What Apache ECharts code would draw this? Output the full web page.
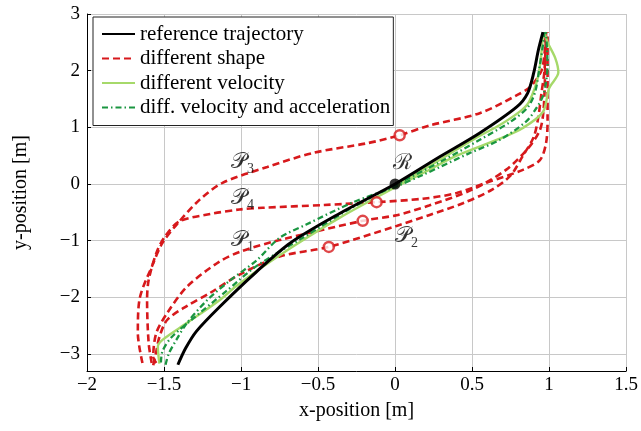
<!DOCTYPE html>
<html>
<head>
<meta charset="utf-8">
<script src="https://cdn.jsdelivr.net/npm/echarts@6/dist/echarts.min.js"></script>
<style>
  html, body { margin: 0; padding: 0; background: #fff; }
  #chart { width: 641px; height: 431px; }
</style>
</head>
<body>
<div id="chart"></div>
<script>
// reference trajectory
const refPath = [[-1.41,-3.19],[-1.36,-2.9],[-1.29,-2.6],[-1.14,-2.17],[-0.9,-1.55],[-0.68,-1.04],[-0.36,-0.52],[0,0],[0.29,0.48],[0.55,0.9],[0.79,1.36],[0.86,1.6],[0.9,1.96],[0.93,2.36],[0.96,2.68]];

// different shape (P1..P4)
const shapeP1 = [[-1.55,-3.16],[-1.57,-3.05],[-1.55,-2.63],[-1.48,-2.28],[-1.35,-1.81],[-1.14,-1.37],[-1.0,-1.19],[-0.75,-0.99],[-0.21,-0.65],[0.01,-0.55],[0.22,-0.38],[0.5,-0.1],[0.72,0.25],[0.87,0.65],[0.94,0.95],[0.96,1.2],[0.97,1.6],[0.98,2.68]];
const shapeP2 = [[-1.57,-3.2],[-1.55,-2.95],[-1.53,-2.7],[-1.48,-2.4],[-1.35,-2.15],[-1.2,-1.92],[-1.01,-1.6],[-0.75,-1.28],[-0.43,-1.11],[0.01,-0.74],[0.22,-0.55],[0.44,-0.34],[0.63,-0.1],[0.75,0.15],[0.83,0.5],[0.9,0.83],[0.93,1.18],[0.95,1.6],[0.97,2.0],[0.98,2.68]];
const shapeP3 = [[-1.64,-3.16],[-1.67,-2.63],[-1.66,-2.05],[-1.57,-1.4],[-1.51,-1.04],[-1.41,-0.69],[-1.27,-0.28],[-1.12,0.02],[-0.83,0.3],[-0.53,0.55],[-0.18,0.72],[0.03,0.86],[0.22,1.03],[0.55,1.25],[0.8,1.58],[0.88,1.72],[0.95,2.0],[0.97,2.3],[0.98,2.68]];
const shapeP4 = [[-1.58,-3.16],[-1.6,-2.8],[-1.61,-2.05],[-1.6,-1.7],[-1.55,-1.22],[-1.5,-0.95],[-1.4,-0.66],[-1.2,-0.53],[-1.01,-0.45],[-0.86,-0.42],[-0.46,-0.37],[-0.12,-0.32],[0.18,-0.26],[0.4,-0.16],[0.61,0.04],[0.83,0.25],[0.94,0.42],[0.98,0.72],[0.99,1.13],[0.99,1.6],[0.99,2.68]];

// different velocity
const velA = [[-1.53,-3.17],[-1.54,-2.87],[-1.51,-2.75],[-1.35,-2.45],[-1.14,-2.05],[-1.03,-1.8],[-0.88,-1.5],[-0.65,-1.08],[-0.35,-0.58],[0,-0.06],[0.2,0.22],[0.4,0.5],[0.68,0.8],[0.83,0.99],[0.96,1.27],[1.0,1.69],[1.06,1.97],[1.04,2.22],[0.99,2.5],[0.97,2.68]];
const velB = [[0,-0.04],[0.2,0.28],[0.55,0.85],[0.68,1.04],[0.82,1.3],[0.87,1.45],[0.93,1.92],[0.96,2.63]];

// diff. velocity and acceleration
const accA = [[-1.49,-3.19],[-1.47,-3.0],[-1.42,-2.75],[-1.35,-2.45],[-1.22,-2.05],[-1.07,-1.7],[-0.9,-1.35],[-0.75,-0.95],[-0.58,-0.72],[-0.27,-0.32],[0,-0.05],[0.18,0.16],[0.48,0.54],[0.68,0.78],[0.85,1.1],[0.92,1.35],[0.96,1.55],[0.98,1.8],[0.99,2.1],[0.98,2.68]];
const accB = [[-1.52,-3.15],[-1.51,-2.95],[-1.45,-2.7],[-1.3,-2.35],[-1.1,-1.9],[-0.9,-1.45],[-0.6,-0.95],[-0.3,-0.45],[0,-0.02],[0.3,0.4],[0.55,0.78],[0.75,1.1],[0.86,1.35],[0.91,1.63],[0.94,2.1],[0.96,2.45],[0.97,2.68]];

// markers and labels
const shapeMarks = [[0.03,0.86],[-0.12,-0.32],[-0.21,-0.65],[-0.43,-1.11]];
const refMark = [[0,0]];
const pathLabels = [
  { value: [-0.99, 0.39], text: '3' },
  { value: [-0.99, -0.25], text: '4' },
  { value: [-0.99, -0.99], text: '1' },
  { value: [0.075, -0.93], text: '2' }
];
const refLabel = [0.05, 0.37];

const xTicks = { min: -2, max: 1.5, step: 0.5 };
const yRange = { min: -3.3, max: 3 };

const RED = '#d7191c', LIGHT = '#a6d96a', DARK = '#1a9641';
const FONT = 'Liberation Serif';

const fmt = v => (v < 0 ? '\u2212' : '') + Math.abs(v);

const lineSeries = (name, data, color, width, type) => ({
  name, type: 'line', data, symbol: 'none', smooth: 0.3,
  lineStyle: { color, width, type, cap: 'butt' },
  itemStyle: { color },
  z: 2
});

const myChart = echarts.init(document.getElementById('chart'));
myChart.setOption({
  animation: false,
  textStyle: { fontFamily: FONT },
  grid: { left: 87, right: 14, top: 14, bottom: 60 },
  legend: {
    data: ['reference trajectory', 'different shape', 'different velocity', 'diff. velocity and acceleration'],
    orient: 'vertical', left: 93, top: 17,
    itemWidth: 33, itemHeight: 14, itemGap: 3.5,
    padding: [6.5, 3, 7.5, 8],
    itemStyle: { opacity: 0 },
    backgroundColor: '#fff', borderColor: '#222', borderWidth: 1,
    textStyle: { fontFamily: FONT, fontSize: 21, color: '#000' }
  },
  xAxis: {
    type: 'value', min: xTicks.min, max: xTicks.max, interval: xTicks.step,
    name: 'x-position [m]', nameLocation: 'middle', nameGap: 30,
    nameTextStyle: { fontFamily: FONT, fontSize: 20, color: '#000' },
    axisLine: { onZero: false, lineStyle: { color: '#000', width: 1 } },
    axisTick: { inside: true, length: 4, lineStyle: { color: '#000' } },
    axisLabel: { formatter: fmt, fontFamily: FONT, fontSize: 19, color: '#000', margin: 5 },
    splitLine: { lineStyle: { color: '#c8c8c8', width: 1 } }
  },
  yAxis: {
    type: 'value', min: yRange.min, max: yRange.max, splitNumber: 6,
    name: 'y-position [m]', nameLocation: 'middle', nameGap: 56,
    nameTextStyle: { fontFamily: FONT, fontSize: 20, color: '#000' },
    axisLine: { show: true, onZero: false, lineStyle: { color: '#000', width: 1 } },
    axisTick: { show: true, inside: true, length: 4, lineStyle: { color: '#000' } },
    axisLabel: { formatter: fmt, fontFamily: FONT, fontSize: 19, color: '#000', margin: 7, showMinLabel: false },
    splitLine: { lineStyle: { color: '#c8c8c8', width: 1 } }
  },
  series: [
    lineSeries('different shape', shapeP3, RED, 2.6, [7, 4]),
    lineSeries('different shape', shapeP4, RED, 2.6, [7, 4]),
    lineSeries('different shape', shapeP1, RED, 2.6, [7, 4]),
    lineSeries('different shape', shapeP2, RED, 2.6, [7, 4]),
    lineSeries('different velocity', velA, LIGHT, 2.4, 'solid'),
    lineSeries('different velocity', velB, LIGHT, 2.4, 'solid'),
    lineSeries('diff. velocity and acceleration', accA, DARK, 2.3, [6, 3, 1.5, 3]),
    lineSeries('diff. velocity and acceleration', accB, DARK, 2.3, [6, 3, 1.5, 3]),
    lineSeries('reference trajectory', refPath, '#000', 3, 'solid'),
    {
      type: 'scatter', data: shapeMarks, symbol: 'circle', symbolSize: 10,
      itemStyle: { color: '#fff', borderColor: RED, borderWidth: 2.5 }, z: 5
    },
    {
      type: 'scatter', data: refMark, symbol: 'circle', symbolSize: 11,
      itemStyle: { color: '#000' }, z: 6
    },
    {
      type: 'scatter', symbolSize: 0, z: 7,
      data: pathLabels.map(d => ({ value: d.value, text: d.text })),
      label: {
        show: true, position: 'inside',
        formatter: p => '{p|\uD835\uDCAB}{s|' + p.data.text + '}',
        rich: {
          p: { fontFamily: 'DejaVu Serif', fontSize: 22, color: '#000' },
          s: { fontFamily: FONT, fontSize: 14, color: '#000', padding: [14, 0, 0, 0] }
        }
      }
    },
    {
      type: 'scatter', symbolSize: 0, z: 7, data: [refLabel],
      label: {
        show: true, position: 'inside', formatter: '\u211B',
        fontFamily: 'DejaVu Serif', fontSize: 22, color: '#000'
      }
    }
  ]
});
</script>
</body>
</html>
